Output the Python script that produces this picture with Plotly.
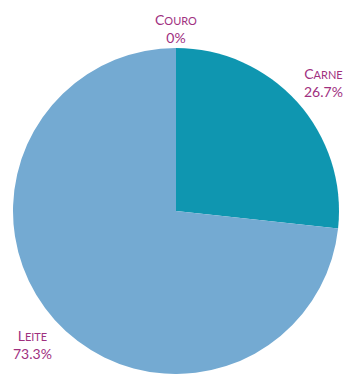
import plotly.graph_objects as go

# Slice data
categorias = ["Couro", "Carne", "Leite"]
percentuais = [0.0, 26.7, 73.3]
cores = ["#0f96b0", "#0f96b0", "#74aad2"]

W, H = 343, 374
label_color = "#a0307f"


def small_caps(word, big=14, small=11):
    return (f"<span style='font-size:{big}px'>{word[0].upper()}</span>"
            f"<span style='font-size:{small}px'>{word[1:].upper()}</span>")


fig = go.Figure(go.Pie(
    labels=categorias,
    values=percentuais,
    sort=False,
    direction="clockwise",
    rotation=0,
    marker=dict(colors=cores, line=dict(width=0)),
    textinfo="none",
    hoverinfo="label+percent",
    domain=dict(x=[13 / W, 339 / W], y=[0, 326 / H]),
    showlegend=False,
))

# label centres (paper coords) for each category
pos = {
    "Couro": (176 / W, 1 - 29 / H),
    "Carne": (323 / W, 1 - 82 / H),
    "Leite": (32 / W, 1 - 344 / H),
}

for cat, val in zip(categorias, percentuais):
    x, y = pos[cat]
    fig.add_annotation(
        x=x, y=y, xref="paper", yref="paper",
        xanchor="center", yanchor="middle",
        text=f"{small_caps(cat)}<br>{val:g}%",
        showarrow=False, align="center",
        font=dict(family="Lato, sans-serif", size=14, color=label_color),
    )

fig.update_layout(
    width=W, height=H,
    margin=dict(l=0, r=0, t=0, b=0),
    paper_bgcolor="white",
    plot_bgcolor="white",
)

fig.write_html("out.html")
